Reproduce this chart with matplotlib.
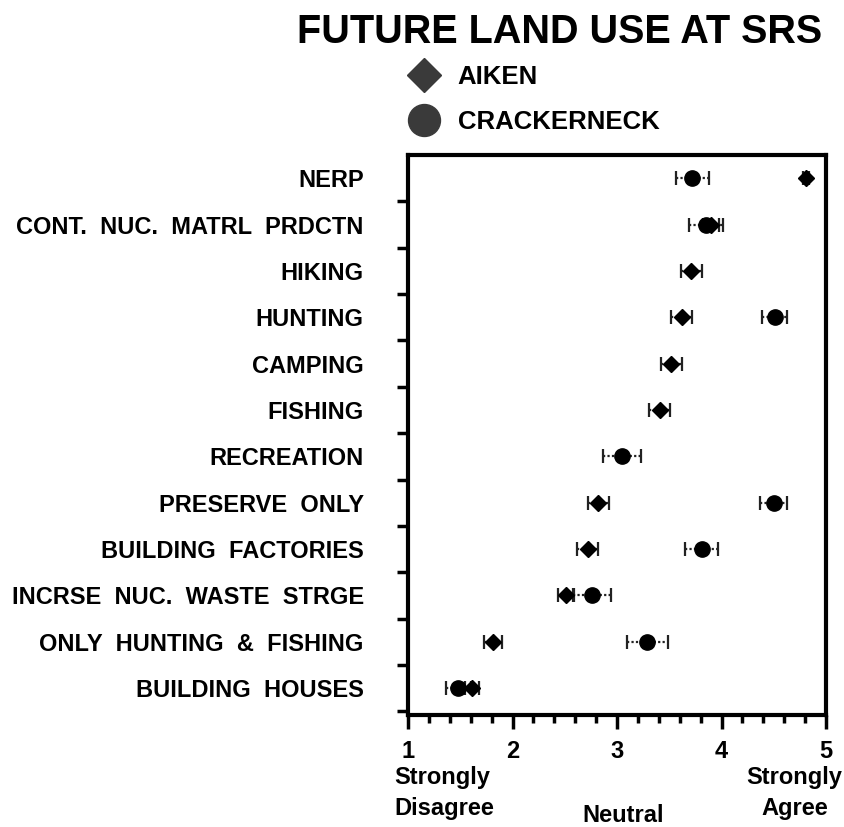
import numpy as np
import matplotlib.pyplot as plt
from matplotlib.lines import Line2D

plt.rcParams['font.family'] = ['Liberation Sans', 'DejaVu Sans']
plt.rcParams['font.weight'] = 'bold'

# data
categories = ["NERP", "CONT.  NUC.  MATRL  PRDCTN", "HIKING", "HUNTING", "CAMPING",
              "FISHING", "RECREATION", "PRESERVE  ONLY", "BUILDING  FACTORIES",
              "INCRSE  NUC.  WASTE  STRGE", "ONLY  HUNTING  &  FISHING", "BUILDING  HOUSES"]
aiken = [4.81, 3.90, 3.71, 3.62, 3.52, 3.41, np.nan, 2.82, 2.72, 2.51, 1.81, 1.61]
aiken_err = [0.03, 0.08, 0.10, 0.10, 0.10, 0.10, np.nan, 0.10, 0.10, 0.08, 0.085, 0.07]
crack = [3.72, 3.85, np.nan, 4.51, np.nan, np.nan, 3.05, 4.50, 3.81, 2.76, 3.29, 1.48]
crack_err = [0.16, 0.16, np.nan, 0.12, np.nan, np.nan, 0.18, 0.13, 0.155, 0.18, 0.195, 0.12]

y = np.arange(len(categories))

fig = plt.figure(figsize=(8.45, 8.27), dpi=100)
ax = fig.add_axes([0.483, 0.1354, 0.4945, 0.6772])

for xs, es, mk, size in [(aiken, aiken_err, 'D', 8), (crack, crack_err, 'o', 11)]:
    eb = ax.errorbar(xs, y, xerr=es, fmt=mk, color='black', ms=size,
                     ecolor='#222222', elinewidth=1.6, capsize=5, capthick=1.6, ls='none')
    eb[2][0].set_linestyle((0, (1, 1)))

ax.set_xlim(1, 5)
ax.set_ylim(11.58, -0.5)
ax.set_xticks([1, 2, 3, 4, 5])
ax.set_xticklabels(["1", "2", "3", "4", "5"], fontsize=17, fontweight='bold')
ax.set_xticks(np.arange(1, 5.01, 0.2), minor=True)
ax.tick_params(axis='x', which='major', direction='out', length=10, width=2.5, pad=8)
ax.tick_params(axis='x', which='minor', direction='out', length=6, width=2.5)

ax.set_yticks(y + 0.5)
ax.set_yticklabels([])
ax.set_yticks(y, minor=True)
ax.set_yticklabels(categories, minor=True, fontsize=17, fontweight='bold')
ax.tick_params(axis='y', which='major', direction='out', length=8, width=2.5)
ax.tick_params(axis='y', which='minor', length=0, pad=32)

for s in ax.spines.values():
    s.set_linewidth(3)

# scale descriptions under the axis
fig.text(0.467, 0.041, "Strongly\nDisagree", fontsize=17, fontweight='bold',
         ha='left', va='center', linespacing=1.45)
fig.text(0.737, 0.0145, "Neutral", fontsize=17, fontweight='bold', ha='center', va='center')
fig.text(0.94, 0.041, "Strongly\nAgree", fontsize=17, fontweight='bold',
         ha='center', va='center', linespacing=1.45)

fig.text(0.662, 0.961, "FUTURE LAND USE AT SRS", fontsize=28.5, fontweight='bold',
         ha='center', va='center')

handles = [Line2D([], [], marker='D', ls='none', color='#3a3a3a', ms=17),
           Line2D([], [], marker='o', ls='none', color='#3a3a3a', ms=23)]
fig.legend(handles, ["AIKEN", "CRACKERNECK"], loc='upper left',
           bbox_to_anchor=(0.467, 0.937), frameon=False,
           prop={'weight': 'bold', 'size': 18.5}, handletextpad=0.65,
           labelspacing=0.8, borderpad=0, handlelength=1.3)

fig.savefig("out.png", dpi=100)
